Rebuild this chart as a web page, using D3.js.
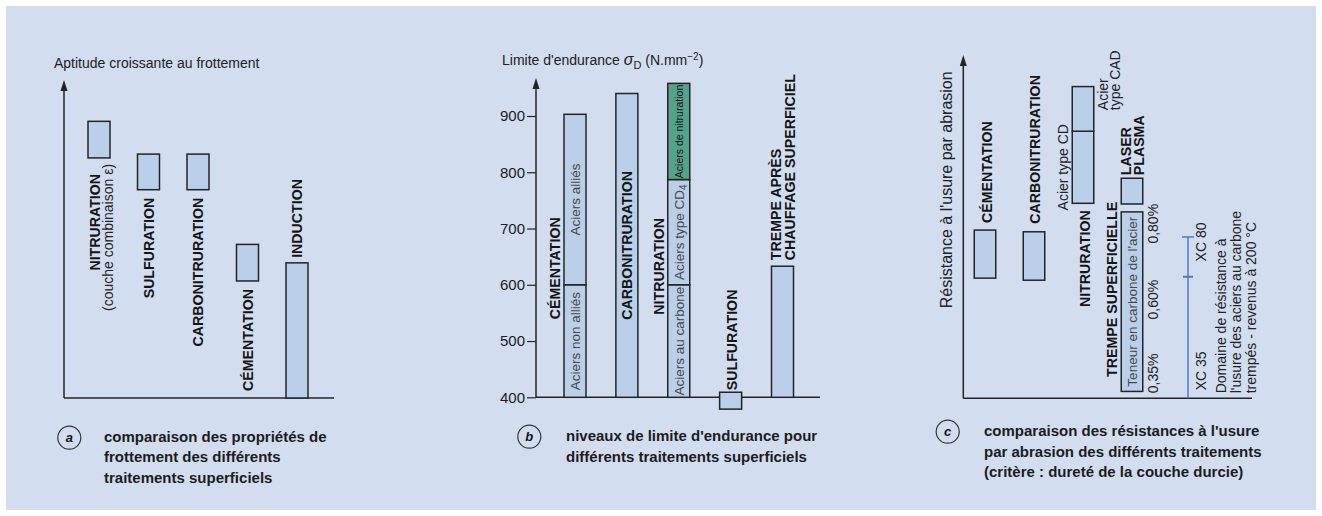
<!DOCTYPE html>
<html>
<head>
<meta charset="utf-8">
<script src="https://cdn.jsdelivr.net/npm/d3@7/dist/d3.min.js"></script>
<style>
  html, body { margin: 0; padding: 0; background: #ffffff; }
  svg { display: block; }
  text { font-family: "Liberation Sans", Arial, Helvetica, sans-serif; }
</style>
</head>
<body>
<svg id="chart" width="1322" height="516"></svg>
<script>
// ---------- (a) friction aptitude of surface treatments ----------
const aCategories = ["NITRURATION", "SULFURATION", "CARBONITRURATION", "CÉMENTATION", "INDUCTION"];
const aLow  = [75.5, 65.5, 65.5, 36.8, 0];
const aHigh = [87.0, 76.7, 76.7, 48.3, 42.5];

// ---------- (b) endurance limit (N/mm²) ----------
const bCategories = ["CÉMENTATION", "CARBONITRURATION", "NITRURATION", "SULFURATION", "TREMPE APRÈS CHAUFFAGE SUPERFICIEL"];
const bSegCat   = ["CÉMENTATION", "CÉMENTATION", "CARBONITRURATION", "NITRURATION", "NITRURATION", "NITRURATION", "SULFURATION", "TREMPE APRÈS CHAUFFAGE SUPERFICIEL"];
const bSegFrom  = [400, 600, 400, 400, 600, 787, 379, 400];
const bSegTo    = [600, 903, 940, 600, 787, 958, 409, 633];
const bSegSteel = ["Aciers non alliés", "Aciers alliés", "", "Aciers au carbone", "Aciers type CD", "Aciers de nitruration", "", ""];
const bTicks = [400, 500, 600, 700, 800, 900];

// ---------- (c) abrasion wear resistance ----------
const cColumns = ["CÉMENTATION", "CARBONITRURATION", "NITRURATION", "LASER PLASMA"];
const cSegCol  = ["CÉMENTATION", "CARBONITRURATION", "NITRURATION", "NITRURATION", "LASER PLASMA", "LASER PLASMA"];
const cSegName = ["CÉMENTATION", "CARBONITRURATION", "Acier type CD", "Acier type CAD", "LASER PLASMA", "TREMPE SUPERFICIELLE"];
const cSegLow  = [35.0, 34.4, 56.8, 77.8, 56.6, 2.0];
const cSegHigh = [49.0, 48.5, 77.8, 90.8, 64.1, 54.3];
const cCarbonLabels = ["0,35%", "0,60%", "0,80%"];
const cGradeLow = 0, cGradeMid = 35.4, cGradeHigh = 47;

// ---------- common styling ----------
const BG = "#d2ddf0", FILL = "#bacfe9", EDGE = "#242424", INK = "#141414", GREY = "#474747";
const GREEN = "#54a28a", BLUE = "#4f7cc6";
const BOLD = { size: 14.2, bold: true, fill: INK };
const REG  = { size: 14, bold: false, fill: "#222" };
const INNER = { size: 13.5, bold: false, fill: GREY };

const svg = d3.select("#chart");
svg.append("rect").attr("x", 6).attr("y", 6).attr("width", 1310).attr("height", 504).attr("fill", BG);

// vertical (bottom-to-top) text whose glyph column is centred on cx
function vtext(g, cx, y, anchor, o) {
  return g.append("text")
    .attr("transform", `translate(${cx + o.size * 0.36},${y}) rotate(-90)`)
    .attr("text-anchor", anchor)
    .style("font-size", o.size + "px")
    .style("font-weight", o.bold ? "bold" : "normal")
    .attr("fill", o.fill);
}

// vertical axis with arrow head plus a horizontal base line
function frame(g, x0, yBase, yTop, x1) {
  g.append("line").attr("x1", x0).attr("x2", x0).attr("y1", yBase).attr("y2", yTop + 4)
    .attr("stroke", EDGE).attr("stroke-width", 1.5);
  g.append("path").attr("d", `M${x0 - 3.5},${yTop + 11}L${x0},${yTop}L${x0 + 3.5},${yTop + 11}Z`).attr("fill", EDGE);
  g.append("line").attr("x1", x0).attr("x2", x1).attr("y1", yBase).attr("y2", yBase)
    .attr("stroke", EDGE).attr("stroke-width", 1.5);
}

function caption(g, cx, cy, letter, tx, lines, y0, dy) {
  g.append("circle").attr("cx", cx).attr("cy", cy).attr("r", 11.5)
    .attr("fill", "none").attr("stroke", "#333").attr("stroke-width", 1.2);
  g.append("text").attr("x", cx).attr("y", cy + 4.5).attr("text-anchor", "middle")
    .style("font-size", "13px").style("font-weight", "bold").style("font-style", "italic")
    .attr("fill", INK).text(letter);
  lines.forEach((s, i) => {
    g.append("text").attr("x", tx).attr("y", y0 + i * dy)
      .style("font-size", "15px").style("font-weight", "bold").attr("fill", "#1c1c1c").text(s);
  });
}

const barW = 22;

// ================= panel a =================
{
  const g = svg.append("g");
  const y = d3.scaleLinear().domain([0, 100]).range([398, 80]);
  const x = d3.scalePoint().domain(aCategories).range([99, 297]);

  g.append("text").attr("x", 54).attr("y", 68).style("font-size", "14px").attr("fill", "#222")
    .text("Aptitude croissante au frottement");
  frame(g, 64, y(0), 80, 334);

  g.selectAll("rect.bar").data(aCategories).join("rect").attr("class", "bar")
    .attr("x", d => x(d) - barW / 2)
    .attr("y", (d, i) => y(aHigh[i]))
    .attr("width", barW)
    .attr("height", (d, i) => y(aLow[i]) - y(aHigh[i]))
    .attr("fill", FILL).attr("stroke", EDGE).attr("stroke-width", 1.5);

  aCategories.forEach((c, i) => {
    const cx = x(c);
    if (c === "INDUCTION") {
      vtext(g, cx, y(aHigh[i]) - 5, "start", BOLD).text(c);
    } else if (c === "NITRURATION") {
      vtext(g, cx - 4, y(aLow[i]) + 16, "end", BOLD).text(c);
      vtext(g, cx + 9, y(aLow[i]) + 6, "end", REG).text("(couche combinaison ε)");
    } else {
      vtext(g, cx, y(aLow[i]) + 8, "end", BOLD).text(c);
    }
  });

  caption(g, 69.3, 437.7, "a", 104,
    ["comparaison des propriétés de", "frottement des différents", "traitements superficiels"], 441.7, 20.5);
}

// ================= panel b =================
{
  const g = svg.append("g");
  const y = d3.scaleLinear().domain([400, 900]).range([397.3, 116]);
  const x = d3.scalePoint().domain(bCategories).range([575, 782.5]);
  const ax = 536;

  const t = g.append("text").attr("x", 502).attr("y", 65).style("font-size", "14px").attr("fill", "#222");
  t.append("tspan").text("Limite d'endurance ");
  t.append("tspan").style("font-size", "16px").style("font-style", "italic").text("σ");
  t.append("tspan").attr("dy", 4).style("font-size", "11px").text("D");
  t.append("tspan").attr("dy", -4).text(" (N.mm");
  t.append("tspan").attr("dy", -5).style("font-size", "10px").text("−2");
  t.append("tspan").attr("dy", 5).text(")");

  frame(g, ax, y(400), 78, 820);
  const axis = g.append("g").attr("transform", `translate(${ax},0)`)
    .call(d3.axisLeft(y).tickValues(bTicks).tickSize(9).tickPadding(2));
  axis.select(".domain").remove();
  axis.selectAll(".tick line").attr("stroke", EDGE).attr("stroke-width", 1.2);
  axis.selectAll(".tick text").attr("font-family", "'Liberation Sans', Arial, sans-serif")
    .style("font-size", "15px").attr("fill", "#1c1c1c");

  g.selectAll("rect.seg").data(bSegCat).join("rect").attr("class", "seg")
    .attr("x", d => x(d) - barW / 2)
    .attr("y", (d, i) => y(bSegTo[i]))
    .attr("width", barW)
    .attr("height", (d, i) => y(bSegFrom[i]) - y(bSegTo[i]))
    .attr("fill", (d, i) => bSegSteel[i] === "Aciers de nitruration" ? GREEN : FILL)
    .attr("stroke", EDGE).attr("stroke-width", 1.5);

  // steel grades written inside their segments
  bSegCat.forEach((c, i) => {
    const s = bSegSteel[i];
    if (!s) return;
    const mid = (y(bSegFrom[i]) + y(bSegTo[i])) / 2;
    if (s === "Aciers de nitruration") {
      vtext(g, x(c), mid, "middle", { size: 10.5, bold: false, fill: INK }).text(s);
    } else if (s === "Aciers type CD") {
      const tt = vtext(g, x(c), mid, "middle", INNER);
      tt.append("tspan").text("Aciers type CD");
      tt.append("tspan").attr("dy", 3).style("font-size", "10px").text("4");
    } else {
      vtext(g, x(c), mid, "middle", INNER).text(s);
    }
  });

  const base = y(400);
  vtext(g, x("CÉMENTATION") - 20, base - 129, "middle", BOLD).text("CÉMENTATION");
  vtext(g, x("CARBONITRURATION"), (y(400) + y(940)) / 2, "middle", BOLD).text("CARBONITRURATION");
  vtext(g, x("NITRURATION") - 19.5, base - 131, "middle", BOLD).text("NITRURATION");
  vtext(g, x("SULFURATION") + 1, y(409) - 2, "start", BOLD).text("SULFURATION");
  const tr = x("TREMPE APRÈS CHAUFFAGE SUPERFICIEL");
  vtext(g, tr - 7, y(633) - 6, "start", BOLD).text("TREMPE APRÈS");
  vtext(g, tr + 7.5, y(633) - 6, "start", BOLD).text("CHAUFFAGE SUPERFICIEL");

  caption(g, 529.3, 436.7, "b", 566,
    ["niveaux de limite d'endurance pour", "différents traitements superficiels"], 440.7, 21);
}

// ================= panel c =================
{
  const g = svg.append("g");
  const y = d3.scaleLinear().domain([0, 100]).range([398.3, 55]);
  const x = d3.scalePoint().domain(cColumns).range([985, 1132]);
  const w = 21.5;

  frame(g, 963.3, y(0), 55, 1252);
  vtext(g, 946.5, y(0) - 90, "start", { size: 16, bold: false, fill: "#222" })
    .text("Résistance à l'usure par abrasion");

  g.selectAll("rect.seg").data(cSegCol).join("rect").attr("class", "seg")
    .attr("x", d => x(d) - w / 2)
    .attr("y", (d, i) => y(cSegHigh[i]))
    .attr("width", w)
    .attr("height", (d, i) => y(cSegLow[i]) - y(cSegHigh[i]))
    .attr("fill", FILL).attr("stroke", EDGE).attr("stroke-width", 1.5);

  const seg = n => cSegName.indexOf(n);
  const xc = x("CÉMENTATION"), xk = x("CARBONITRURATION"), xn = x("NITRURATION"), xs = x("LASER PLASMA");

  vtext(g, xc + 1.5, y(cSegHigh[seg("CÉMENTATION")]) - 7, "start", BOLD).text("CÉMENTATION");
  vtext(g, xk + 1, y(cSegHigh[seg("CARBONITRURATION")]) - 8, "start", BOLD).text("CARBONITRURATION");
  vtext(g, xn + 1.5, y(cSegLow[seg("Acier type CD")]) + 7, "end", BOLD).text("NITRURATION");
  vtext(g, xn - 20, (y(cSegLow[seg("Acier type CD")]) + y(cSegHigh[seg("Acier type CD")])) / 2, "middle", REG)
    .text("Acier type CD");
  vtext(g, xn + 20, y(cSegLow[seg("Acier type CAD")]) - 21, "start", REG).text("Acier");
  vtext(g, xn + 32, y(cSegLow[seg("Acier type CAD")]) - 21, "start", REG).text("type CAD");
  vtext(g, xs - 6, y(cSegHigh[seg("LASER PLASMA")]) - 3, "start", BOLD).text("LASER");
  vtext(g, xs + 6.5, y(cSegHigh[seg("LASER PLASMA")]) - 3, "start", BOLD).text("PLASMA");

  const tLow = y(cSegLow[seg("TREMPE SUPERFICIELLE")]), tHigh = y(cSegHigh[seg("TREMPE SUPERFICIELLE")]);
  vtext(g, xs - 20.5, tHigh - 10, "end", BOLD).text("TREMPE SUPERFICIELLE");
  vtext(g, xs, (tLow + tHigh) / 2, "middle", INNER).text("Teneur en carbone de l'acier");
  vtext(g, xs + 21, y(0) - 5, "start", REG).text(cCarbonLabels[0]);
  vtext(g, xs + 21, (tLow + tHigh) / 2 - 2, "middle", REG).text(cCarbonLabels[1]);
  vtext(g, xs + 21, tHigh - 8, "end", REG).text(cCarbonLabels[2]);

  // range of quenched and tempered carbon steels, XC 35 to XC 80
  const lx = xs + 56;
  g.append("line").attr("x1", lx).attr("x2", lx).attr("y1", y(cGradeLow)).attr("y2", y(cGradeHigh))
    .attr("stroke", BLUE).attr("stroke-width", 1.5);
  g.append("line").attr("x1", lx - 6).attr("x2", lx + 6).attr("y1", y(cGradeHigh)).attr("y2", y(cGradeHigh))
    .attr("stroke", BLUE).attr("stroke-width", 1.5);
  g.append("line").attr("x1", lx - 5).attr("x2", lx + 5).attr("y1", y(cGradeMid)).attr("y2", y(cGradeMid))
    .attr("stroke", BLUE).attr("stroke-width", 2);

  vtext(g, lx + 13.4, y(0) - 8, "start", REG).text("XC 35");
  vtext(g, lx + 13.4, y(cGradeHigh) + 5, "middle", REG).text("XC 80");
  ["Domaine de résistance à", "l'usure des aciers au carbone", "trempés - revenus à 200 °C"].forEach((s, i) => {
    vtext(g, lx + 33.4 + i * 15, y(0) - 5, "start", REG).text(s);
  });

  caption(g, 947.7, 431.7, "c", 984,
    ["comparaison des résistances à l'usure", "par abrasion des différents traitements", "(critère : dureté de la couche durcie)"], 435.7, 20.8);
}
</script>
</body>
</html>
